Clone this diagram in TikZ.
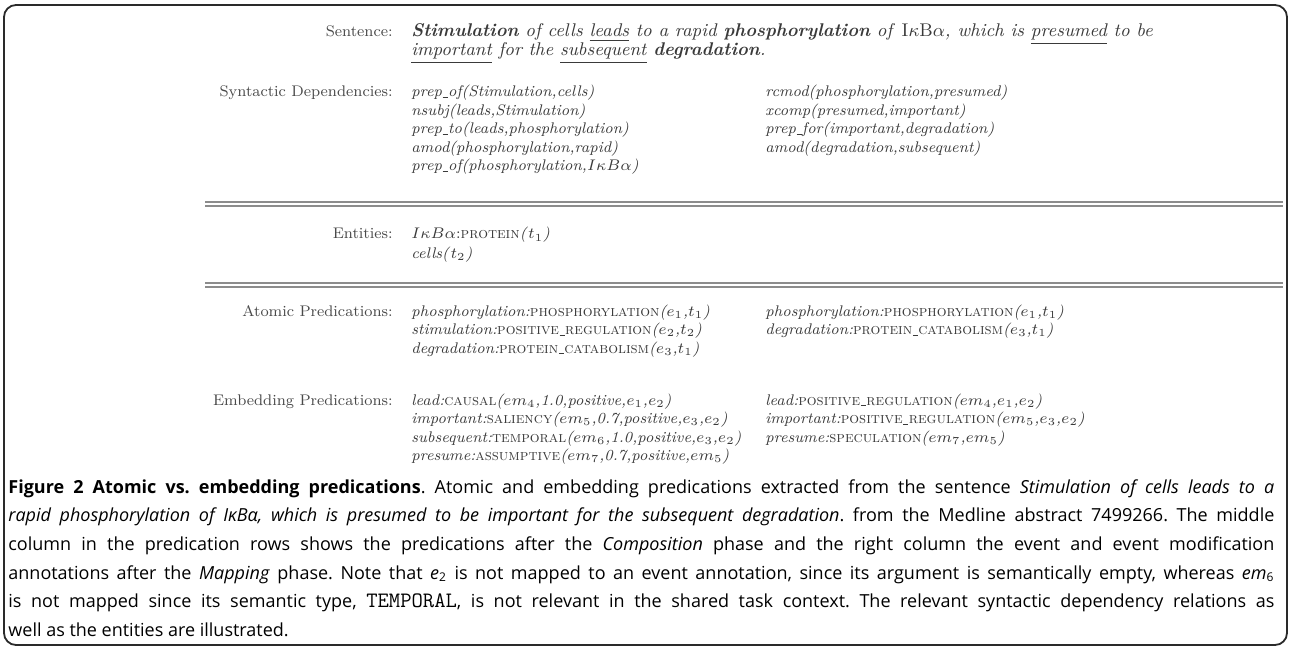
\RequirePackage{fix-cm}
\documentclass[tikz,border=0pt]{standalone}
\usepackage{fontspec}
\newfontfamily\capfam{Open Sans}
\definecolor{tabtext}{HTML}{3A3A3A}
\definecolor{labtext}{HTML}{4A4A4A}
\definecolor{rulegray}{HTML}{8C8C8C}
\definecolor{framec}{HTML}{2A2A2A}
\newcommand{\tabfont}{\fontsize{7.7}{9.25}\selectfont}
\newcommand{\sentfont}{\fontsize{9.2}{10}\selectfont}
\newcommand{\capfont}{\capfam\fontsize{9}{14}\selectfont\frenchspacing}
\newcommand{\capsc}[1]{{\fontshape{sc}\selectfont #1}}
\newcommand{\us}{\kern.04em\rule[-.1ex]{.32em}{.05ex}\kern.04em}
\newcommand{\predn}[3]{\textit{#1:}\capsc{#2}\textit{(#3)}}
\newcommand{\ikba}{$I\kappa B\alpha$}
\tikzset{
  tb/.style={anchor=base west, inner sep=0pt, text=tabtext, font=\tabfont},
  lab/.style={anchor=base east, inner sep=0pt, text=labtext, font=\tabfont},
  capline/.style={anchor=base west, inner sep=0pt, text=black, font=\capfont},
  dblrule/.style={draw=rulegray, line width=0.7pt},
  frame/.style={draw=framec, line width=0.9pt, rounded corners=6pt}
}
\begin{document}
\begin{tikzpicture}[x=0.5pt,y=-0.5pt]
\useasboundingbox (0,0) rectangle (1292,647);
% frame
\draw[frame] (4,5) rectangle (1287,645);
% labels
\node[lab] (lsent) at (393,37) {Sentence:};
\node[lab] (lsyn) at (393,97) {Syntactic Dependencies:};
\node[lab] (lent) at (393,239) {Entities:};
\node[lab] (latom) at (393,316) {Atomic Predications:};
\node[lab] (lemb) at (393,405) {Embedding Predications:};
% sentence
\node[tb, font=\sentfont] (s1) at (411,37) {\itshape \textbf{Stimulation} of cells \underline{leads} to a rapid \textbf{phosphorylation} of \textup{I}$\kappa$\textup{B}$\alpha$, which is \underline{presumed} to be};
\node[tb, font=\sentfont] (s2) at (411,56) {\itshape \underline{important} for the \underline{subsequent} \textbf{degradation}.};
% syntactic dependencies
\node[tb] (d1) at (411,97) {\textit{prep\us of(Stimulation,cells)}};
\node[tb] (d2) at (411,115.5) {\textit{nsubj(leads,Stimulation)}};
\node[tb] (d3) at (411,134) {\textit{prep\us to(leads,phosphorylation)}};
\node[tb] (d4) at (411,152.5) {\textit{amod(phosphorylation,rapid)}};
\node[tb] (d5) at (411,171) {\textit{prep\us of(phosphorylation,\ikba)}};
\node[tb] (d6) at (765,97) {\textit{rcmod(phosphorylation,presumed)}};
\node[tb] (d7) at (765,115.5) {\textit{xcomp(presumed,important)}};
\node[tb] (d8) at (765,134) {\textit{prep\us for(important,degradation)}};
\node[tb] (d9) at (765,152.5) {\textit{amod(degradation,subsequent)}};
% rules
\draw[dblrule] (205,202) -- (1283,202);
\draw[dblrule] (205,206) -- (1283,206);
\draw[dblrule] (205,283) -- (1283,283);
\draw[dblrule] (205,287) -- (1283,287);
% entities
\node[tb] (en1) at (411,239) {\ikba:\capsc{protein}\textit{(}$t_1$\textit{)}};
\node[tb] (en2) at (411,258) {\textit{cells(}$t_2$\textit{)}};
% atomic
\node[tb] (a1) at (411,316) {\predn{phosphorylation}{phosphorylation}{$e_1$,$t_1$}};
\node[tb] (a2) at (411,334.5) {\predn{stimulation}{positive\us regulation}{$e_2$,$t_2$}};
\node[tb] (a3) at (411,353) {\predn{degradation}{protein\us catabolism}{$e_3$,$t_1$}};
\node[tb] (a4) at (765,316) {\predn{phosphorylation}{phosphorylation}{$e_1$,$t_1$}};
\node[tb] (a5) at (765,334.5) {\predn{degradation}{protein\us catabolism}{$e_3$,$t_1$}};
% embedding
\node[tb] (m1) at (411,405) {\predn{lead}{causal}{$em_4$,1.0,positive,$e_1$,$e_2$}};
\node[tb] (m2) at (411,423.5) {\predn{important}{saliency}{$em_5$,0.7,positive,$e_3$,$e_2$}};
\node[tb] (m3) at (411,442) {\predn{subsequent}{temporal}{$em_6$,1.0,positive,$e_3$,$e_2$}};
\node[tb] (m4) at (411,460.5) {\predn{presume}{assumptive}{$em_7$,0.7,positive,$em_5$}};
\node[tb] (m5) at (765,405) {\predn{lead}{positive\us regulation}{$em_4$,$e_1$,$e_2$}};
\node[tb] (m6) at (765,423.5) {\predn{important}{positive\us regulation}{$em_5$,$e_3$,$e_2$}};
\node[tb] (m7) at (765,442) {\predn{presume}{speculation}{$em_7$,$em_5$}};
% caption
\node[capline] (c1) at (8,493) {\hbox to 633pt{\textbf{Figure 2 Atomic vs. embedding predications}. Atomic and embedding predications extracted from the sentence \textit{Stimulation of cells leads to a}}};
\node[capline] (c2) at (8,521.7) {\hbox to 633pt{\textit{rapid phosphorylation of IκBα, which is presumed to be important for the subsequent degradation}. from the Medline abstract 7499266. The middle}};
\node[capline] (c3) at (8,550.4) {\hbox to 633pt{column in the predication rows shows the predications after the \textit{Composition} phase and the right column the event and event modification}};
\node[capline] (c4) at (8,579) {\hbox to 633pt{annotations after the \textit{Mapping} phase. Note that \textit{e}\textsubscript{2} is not mapped to an event annotation, since its argument is semantically empty, whereas \textit{em}\textsubscript{6}}};
\node[capline] (c5) at (8,607.8) {\hbox to 633pt{is not mapped since its semantic type, {\ttfamily\fontsize{11}{14}\selectfont TEMPORAL}, is not relevant in the shared task context. The relevant syntactic dependency relations as}};
\node[capline] (c6) at (8,636.5) {well as the entities are illustrated.};
\end{tikzpicture}
\end{document}
